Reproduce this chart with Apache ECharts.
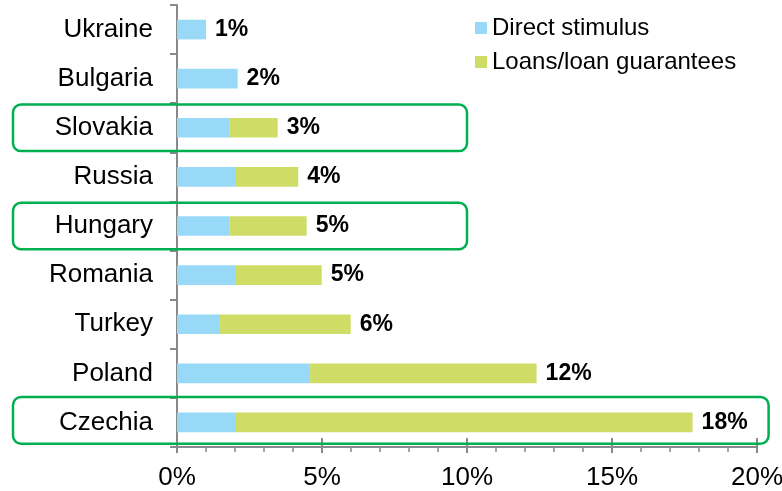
<!DOCTYPE html>
<html>
<head>
<meta charset="utf-8">
<script src="https://cdn.jsdelivr.net/npm/echarts@6/dist/echarts.min.js"></script>
<style>
html,body{margin:0;padding:0;background:#fff;}
#chart{width:782px;height:491px;}
</style>
</head>
<body>
<div id="chart"></div>
<script>
// ---- data ----
var categories = ['Ukraine','Bulgaria','Slovakia','Russia','Hungary','Romania','Turkey','Poland','Czechia'];
var directStimulus = [1.0, 2.09, 1.80, 2.0, 1.80, 2.0, 1.48, 4.59, 2.0];
var loanGuarantees = [0, 0, 1.67, 2.18, 2.67, 2.99, 4.51, 7.81, 15.78];
var totalLabels = [1, 2, 3, 4, 5, 5, 6, 12, 18];
var xTicks = [0, 5, 10, 15, 20];
var highlighted = ['Slovakia', 'Hungary', 'Czechia'];
var highlightExtent = [10, 10, 20.4];

var FONT = "'Liberation Sans', Arial, sans-serif";
var AXIS_COLOR = '#898989';

var chart = echarts.init(document.getElementById('chart'), null, {renderer: 'canvas'});

var option = {
  animation: false,
  backgroundColor: '#ffffff',
  textStyle: {fontFamily: FONT},
  grid: {left: 177, right: 25, top: 5, bottom: 44, containLabel: false, outerBoundsMode: 'none'},
  legend: {
    orient: 'vertical',
    left: 470,
    top: 11,
    itemWidth: 12,
    itemHeight: 12,
    itemGap: 10,
    icon: 'rect',
    selectedMode: false,
    textStyle: {fontSize: 24, color: '#000', fontFamily: FONT},
    data: ['Direct stimulus', 'Loans/loan guarantees']
  },
  xAxis: [{
    type: 'value',
    min: xTicks[0],
    max: xTicks[xTicks.length - 1],
    interval: 5,
    axisLine: {show: true, lineStyle: {color: AXIS_COLOR, width: 2}},
    axisTick: {show: true, length: 6, lineStyle: {color: AXIS_COLOR, width: 2}},
    minorTick: {show: true, splitNumber: 5, length: 5, lineStyle: {color: AXIS_COLOR, width: 1.5}},
    splitLine: {show: false},
    axisLabel: {
      margin: 18,
      fontSize: 26,
      color: '#000',
      fontFamily: FONT,
      hideOverlap: false,
      formatter: function (v) { return v + '%'; }
    }
  }, {
    type: 'value',
    position: 'bottom',
    min: xTicks[0],
    max: xTicks[xTicks.length - 1],
    interval: 5,
    axisLine: {show: false},
    axisTick: {show: true, inside: true, length: 9, lineStyle: {color: AXIS_COLOR, width: 2}},
    axisLabel: {show: false},
    splitLine: {show: false}
  }],
  yAxis: {
    type: 'category',
    inverse: true,
    data: categories,
    axisLine: {show: true, lineStyle: {color: AXIS_COLOR, width: 2}},
    axisTick: {show: true, length: 7, alignWithLabel: false, lineStyle: {color: AXIS_COLOR, width: 2}},
    axisLabel: {margin: 24, fontSize: 26, color: '#000', fontFamily: FONT}
  },
  series: [{
    name: 'Direct stimulus',
    type: 'bar',
    stack: 'total',
    barWidth: '40%',
    itemStyle: {color: '#97D9F7'},
    data: directStimulus
  }, {
    name: 'Loans/loan guarantees',
    type: 'bar',
    stack: 'total',
    barWidth: '40%',
    itemStyle: {color: '#CFDD67'},
    label: {
      show: true,
      position: 'right',
      distance: 9,
      fontSize: 23,
      fontWeight: 'bold',
      color: '#000',
      fontFamily: FONT,
      formatter: function (p) { return totalLabels[p.dataIndex] + '%'; }
    },
    data: loanGuarantees
  }]
};

chart.setOption(option);

// Green rounded annotation boxes around highlighted rows, positioned via the axes
function drawBoxes() {
  var p0 = chart.convertToPixel({yAxisIndex: 0}, categories[0]);
  var p1 = chart.convertToPixel({yAxisIndex: 0}, categories[1]);
  var band = Math.abs(p1 - p0);
  var h = band * 0.95;
  var elements = highlighted.map(function (cat, i) {
    var cy = chart.convertToPixel({yAxisIndex: 0}, cat);
    var xr = chart.convertToPixel({xAxisIndex: 0}, highlightExtent[i]);
    var xl = 13;
    return {
      type: 'rect',
      z: 100,
      silent: true,
      shape: {x: xl, y: cy - h / 2 - (i === 2 ? 2 : 0), width: xr - xl, height: h, r: 8},
      style: {fill: 'none', stroke: '#00B050', lineWidth: 2.5}
    };
  });
  chart.setOption({graphic: {elements: elements}});
}
drawBoxes();
</script>
</body>
</html>
